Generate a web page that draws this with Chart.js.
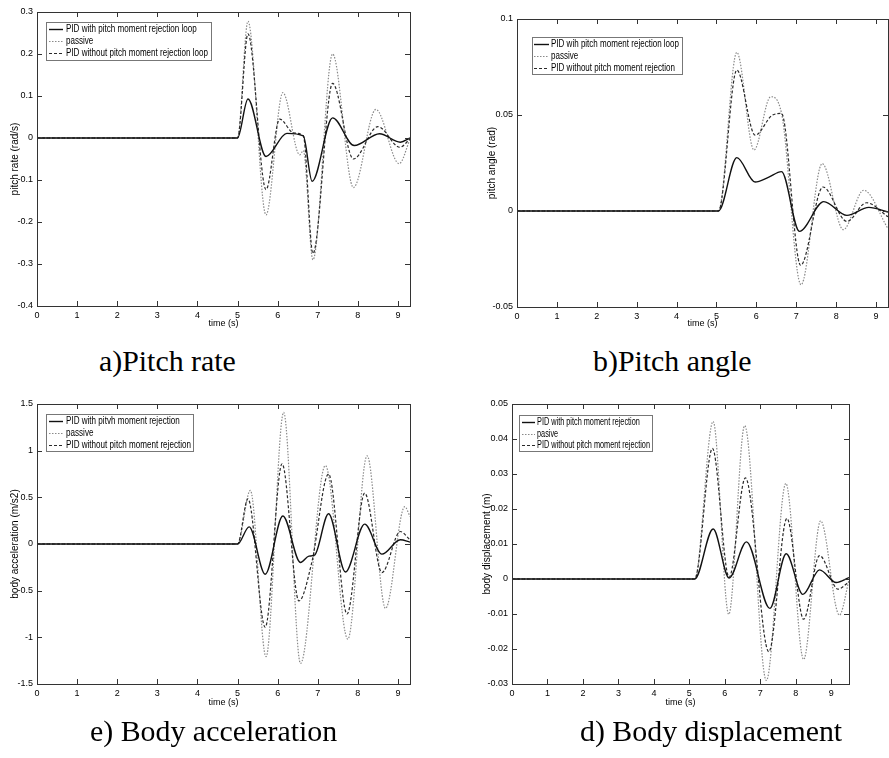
<!DOCTYPE html>
<html>
<head>
<meta charset="utf-8">
<script src="https://cdn.jsdelivr.net/npm/chart.js@4/dist/chart.umd.min.js"></script>
<style>
  body { margin: 0; background: #fff; width: 889px; height: 758px; position: relative; overflow: hidden; }
  canvas { position: absolute; }
  .cap { position: absolute; font-family: "Liberation Serif", "Times New Roman", serif; font-size: 29px; line-height: 29px; color: #000; white-space: nowrap; transform: scaleX(1.03); transform-origin: left top; }
</style>
</head>
<body>
<canvas id="rateChart" width="440" height="340" style="left:0;top:0"></canvas>
<canvas id="angleChart" width="444" height="340" style="left:445px;top:0"></canvas>
<canvas id="accelChart" width="440" height="340" style="left:0;top:380px"></canvas>
<canvas id="dispChart" width="444" height="340" style="left:445px;top:380px"></canvas>
<div class="cap" style="left:99px;top:347px">a)Pitch rate</div>
<div class="cap" style="left:593px;top:347px">b)Pitch angle</div>
<div class="cap" style="left:90px;top:717px">e) Body acceleration</div>
<div class="cap" style="left:580px;top:717px">d) Body displacement</div>
<script>
// ---- data (time in s) ----
const timeTicks = [0, 1, 2, 3, 4, 5, 6, 7, 8, 9];

// a) pitch rate (rad/s)
const rateTicks = [-0.4, -0.3, -0.2, -0.1, 0, 0.1, 0.2, 0.3];
const rateLabels = ["PID with pitch moment rejection loop", "passive", "PID without pitch moment rejection loop"];
const rateWithT = [0, 5.0, 5.26, 5.71, 6.23, 6.64, 6.86, 7.37, 7.91, 8.54, 9.06, 9.3];
const rateWith = [0, 0, 0.093, -0.044, 0.011, 0.005, -0.103, 0.048, -0.018, 0.010, -0.010, 0];
const ratePassiveT = [0, 5.0, 5.26, 5.71, 6.13, 6.55, 6.64, 6.88, 7.37, 7.89, 8.45, 9.03, 9.3];
const ratePassive = [0, 0, 0.278, -0.183, 0.108, -0.040, -0.030, -0.290, 0.200, -0.118, 0.068, -0.061, -0.003];
const rateWithoutT = [0, 5.0, 5.26, 5.71, 6.05, 6.4, 6.64, 6.88, 7.37, 7.89, 8.5, 9.05, 9.3];
const rateWithout = [0, 0, 0.248, -0.123, 0.045, 0.012, 0.005, -0.275, 0.130, -0.050, 0.027, -0.022, -0.002];

// b) pitch angle (rad)
const angleTicks = [-0.05, 0, 0.05, 0.1];
const angleLabels = ["PID wih pitch moment rejection loop", "passive", "PID without pitch moment rejection"];
const angleWithT = [0, 5.05, 5.51, 5.97, 6.3, 6.63, 7.08, 7.69, 8.27, 8.82, 9.3];
const angleWith = [0, 0, 0.0278, 0.0151, 0.0175, 0.0205, -0.0106, 0.0049, -0.0023, 0.0019, -0.0005];
const anglePassiveT = [0, 5.05, 5.51, 5.94, 6.36, 6.63, 7.12, 7.65, 8.18, 8.69, 9.3];
const anglePassive = [0, 0, 0.0826, 0.0318, 0.0595, 0.051, -0.0384, 0.0247, -0.0097, 0.0108, -0.0092];
const angleWithoutT = [0, 5.05, 5.51, 5.97, 6.4, 6.63, 7.11, 7.67, 8.27, 8.76, 9.3];
const angleWithout = [0, 0, 0.0734, 0.0395, 0.0499, 0.0508, -0.0283, 0.0125, -0.0054, 0.0043, -0.003];

// e) body acceleration (m/s2)
const accelTicks = [-1.5, -1, -0.5, 0, 0.5, 1, 1.5];
const accelLabels = ["PID with pitvh moment rejection", "passive", "PID without pitch moment rejection"];
const accelWithT = [0, 5.0, 5.29, 5.69, 6.13, 6.57, 6.78, 6.92, 7.27, 7.69, 8.17, 8.6, 9.06, 9.3];
const accelWith = [0, 0, 0.184, -0.324, 0.30, -0.198, -0.13, -0.12, 0.324, -0.30, 0.213, -0.109, 0.045, 0.02];
const accelPassiveT = [0, 5.0, 5.32, 5.71, 6.15, 6.57, 7.19, 7.75, 8.23, 8.69, 9.17, 9.3];
const accelPassive = [0, 0, 0.574, -1.207, 1.41, -1.28, 0.84, -1.02, 0.945, -0.69, 0.40, 0.295];
const accelWithoutT = [0, 5.0, 5.26, 5.69, 6.11, 6.53, 6.85, 7.27, 7.73, 8.17, 8.6, 9.06, 9.3];
const accelWithout = [0, 0, 0.485, -0.892, 0.86, -0.61, -0.2, 0.75, -0.75, 0.545, -0.306, 0.134, 0.045];

// d) body displacement (m)
const dispTicks = [-0.03, -0.02, -0.01, 0, 0.01, 0.02, 0.03, 0.04, 0.05];
const dispLabels = ["PID with pitch moment rejection", "pasive", "PID without pitch moment rejection"];
const dispWithT = [0, 5.15, 5.67, 6.12, 6.61, 7.27, 7.73, 8.2, 8.67, 9.14, 9.5];
const dispWith = [0, 0, 0.0143, 0.0003, 0.0106, -0.0084, 0.0072, -0.0044, 0.0026, -0.001, 0.0004];
const dispPassiveT = [0, 5.15, 5.67, 6.11, 6.56, 7.17, 7.72, 8.22, 8.7, 9.23, 9.5];
const dispPassive = [0, 0, 0.045, -0.0101, 0.0438, -0.029, 0.0273, -0.023, 0.0166, -0.0103, -0.0003];
const dispWithoutT = [0, 5.15, 5.65, 6.12, 6.58, 7.24, 7.75, 8.22, 8.67, 9.19, 9.5];
const dispWithout = [0, 0, 0.0373, 0.0005, 0.0289, -0.0208, 0.0173, -0.0115, 0.0067, -0.0029, -0.0008];

const pts = (t, v) => t.map((x, i) => ({ x: x, y: v[i] }));

// MATLAB style box, inward ticks and legend
const framePlugin = {
  id: "frame",
  afterDatasetsDraw(chart, args, opts) {
    const { ctx, chartArea: a, scales } = chart;
    const x = scales.x, y = scales.y;
    ctx.save();
    ctx.strokeStyle = "#333";
    ctx.lineWidth = 1;
    ctx.strokeRect(Math.round(a.left) + 0.5, Math.round(a.top) + 0.5, Math.round(a.right - a.left), Math.round(a.bottom - a.top));
    ctx.beginPath();
    x.ticks.forEach(t => {
      const px = Math.round(x.getPixelForValue(t.value)) + 0.5;
      ctx.moveTo(px, a.bottom); ctx.lineTo(px, a.bottom - 5);
      ctx.moveTo(px, a.top); ctx.lineTo(px, a.top + 5);
    });
    y.ticks.forEach(t => {
      const py = Math.round(y.getPixelForValue(t.value)) + 0.5;
      ctx.moveTo(a.left, py); ctx.lineTo(a.left + 5, py);
      ctx.moveTo(a.right, py); ctx.lineTo(a.right - 5, py);
    });
    ctx.stroke();

    // legend
    const L = opts.legend;
    ctx.fillStyle = "#fff";
    ctx.fillRect(L.box[0], L.box[1], L.box[2], L.box[3]);
    ctx.strokeStyle = "#777";
    ctx.strokeRect(L.box[0] + 0.5, L.box[1] + 0.5, L.box[2], L.box[3]);
    ctx.font = "10px 'Liberation Sans', Arial, sans-serif";
    ctx.textBaseline = "middle";
    const labels = chart.data.datasets.map(d => d.label);
    const longest = Math.max(...labels.map(s => ctx.measureText(s).width));
    const sx = L.textWidth / longest;
    chart.data.datasets.forEach((d, i) => {
      const ry = L.rows[i] + 0.5;
      ctx.strokeStyle = d.borderColor;
      ctx.lineWidth = d.borderWidth;
      ctx.setLineDash(d.borderDash || []);
      ctx.beginPath();
      ctx.moveTo(L.line[0], ry); ctx.lineTo(L.line[1], ry);
      ctx.stroke();
      ctx.setLineDash([]);
      ctx.fillStyle = "#000";
      ctx.save();
      ctx.translate(L.text, ry);
      ctx.scale(sx, 1);
      ctx.fillText(d.label, 0, 0);
      ctx.restore();
    });
    ctx.restore();
  }
};

function makeChart(id, o) {
  const fmt = v => String(Math.round(v * 1000) / 1000);
  return new Chart(document.getElementById(id), {
    type: "line",
    data: {
      datasets: [
        { label: o.labels[0], data: pts(o.withT, o.with), borderColor: "#111", borderWidth: 1.4, order: 0 },
        { label: o.labels[1], data: pts(o.passT, o.pass), borderColor: "#8a8a8a", borderWidth: 1.2, borderDash: [1.5, 1.5], order: 2 },
        { label: o.labels[2], data: pts(o.woT, o.wo), borderColor: "#2a2a2a", borderWidth: 1.2, borderDash: [3, 2], order: 1 }
      ]
    },
    options: {
      responsive: false,
      animation: false,
      elements: { point: { radius: 0 }, line: { cubicInterpolationMode: "monotone" } },
      layout: { padding: { top: o.padTop, right: o.padRight, bottom: 0, left: 0 } },
      plugins: {
        legend: { display: false },
        tooltip: { enabled: false },
        frame: { legend: o.legend }
      },
      scales: {
        x: {
          type: "linear",
          min: 0, max: o.xMax,
          grid: { display: false, drawTicks: false },
          border: { display: false },
          ticks: { autoSkip: false, padding: 4, color: "#000", font: { family: "'Liberation Sans', Arial, sans-serif", size: 9 }, maxRotation: 0, callback: fmt },
          afterBuildTicks: s => { s.ticks = timeTicks.map(v => ({ value: v })); },
          afterFit: s => { s.height = o.xHeight; },
          title: { display: true, text: "time (s)", color: "#000", font: { family: "'Liberation Sans', Arial, sans-serif", size: 9, lineHeight: 1 }, padding: { top: 0, bottom: o.xTitlePad } }
        },
        y: {
          min: o.yTicks[0], max: o.yTicks[o.yTicks.length - 1],
          grid: { display: false, drawTicks: false },
          border: { display: false },
          ticks: { padding: 4, color: "#000", font: { family: "'Liberation Sans', Arial, sans-serif", size: 9 }, callback: fmt },
          afterBuildTicks: s => { s.ticks = o.yTicks.map(v => ({ value: v })); },
          afterFit: s => { s.width = o.yWidth; },
          title: { display: true, text: o.yTitle, color: "#000", font: { family: "'Liberation Sans', Arial, sans-serif", size: 10, lineHeight: 1 }, padding: { top: o.yTitlePad, bottom: 0 } }
        }
      }
    },
    plugins: [framePlugin]
  });
}

makeChart("rateChart", {
  labels: rateLabels, withT: rateWithT, with: rateWith, passT: ratePassiveT, pass: ratePassive, woT: rateWithoutT, wo: rateWithout,
  yTicks: rateTicks, yTitle: "pitch rate (rad/s)", xMax: 9.3,
  yWidth: 37, padTop: 12, padRight: 30, xHeight: 34, xTitlePad: 12, yTitlePad: 10,
  legend: { box: [46, 22, 165, 38], line: [49, 63], text: 66, textWidth: 142, rows: [29, 41, 53] }
});
makeChart("angleChart", {
  labels: angleLabels, withT: angleWithT, with: angleWith, passT: anglePassiveT, pass: anglePassive, woT: angleWithoutT, wo: angleWithout,
  yTicks: angleTicks, yTitle: "pitch angle (rad)", xMax: 9.3,
  yWidth: 72, padTop: 19, padRight: 1, xHeight: 33, xTitlePad: 12, yTitlePad: 42,
  legend: { box: [87, 37, 150, 37], line: [89, 104], text: 106, textWidth: 128, rows: [44, 56, 68] }
});
makeChart("accelChart", {
  labels: accelLabels, withT: accelWithT, with: accelWith, passT: accelPassiveT, pass: accelPassive, woT: accelWithoutT, wo: accelWithout,
  yTicks: accelTicks, yTitle: "body acceleration (m/s2)", xMax: 9.3,
  yWidth: 37, padTop: 24, padRight: 30, xHeight: 36, xTitlePad: 13, yTitlePad: 10,
  legend: { box: [46, 34, 147, 37], line: [49, 63], text: 66, textWidth: 125, rows: [41, 53, 65] }
});
makeChart("dispChart", {
  labels: dispLabels, withT: dispWithT, with: dispWith, passT: dispPassiveT, pass: dispPassive, woT: dispWithoutT, wo: dispWithout,
  yTicks: dispTicks, yTitle: "body displacement (m)", xMax: 9.5,
  yWidth: 67, padTop: 24, padRight: 40, xHeight: 36, xTitlePad: 13, yTitlePad: 37,
  legend: { box: [74, 35, 133, 36], line: [77, 90], text: 92, textWidth: 113, rows: [42, 54, 65] }
});
</script>
</body>
</html>
